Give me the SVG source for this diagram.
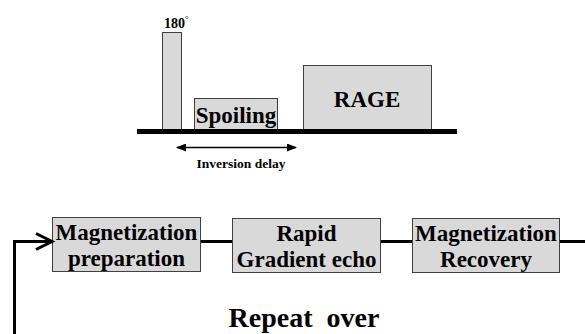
<svg xmlns="http://www.w3.org/2000/svg" width="585" height="334" viewBox="0 0 585 334">
<defs>
<marker id="ah" markerWidth="10" markerHeight="8" refX="9" refY="4" orient="auto" markerUnits="userSpaceOnUse">
<path d="M0,0 L10,4 L0,8 z" fill="#000"/>
</marker>
<marker id="ahs" markerWidth="10" markerHeight="8" refX="1" refY="4" orient="auto" markerUnits="userSpaceOnUse">
<path d="M10,0 L0,4 L10,8 z" fill="#000"/>
</marker>
</defs>
<rect width="585" height="334" fill="#fff"/>
<g font-family="Liberation Serif" font-weight="bold" fill="#000">
<g id="pulse180">
<rect x="162.5" y="32.5" width="19" height="97" fill="#d9d9d9" stroke="#404040"/>
<text x="164" y="28" font-size="14">180<tspan font-size="9" dy="-6">°</tspan></text>
</g>
<g id="spoiling">
<rect x="194.5" y="98.5" width="83" height="31" fill="#d9d9d9" stroke="#404040"/>
<text x="236" y="123" font-size="23" text-anchor="middle">Spoiling</text>
</g>
<g id="rage">
<rect x="303.5" y="65.5" width="128" height="64" fill="#d9d9d9" stroke="#404040"/>
<text x="367" y="107" font-size="23" text-anchor="middle">RAGE</text>
</g>
<g id="inversion-delay">
<text x="241" y="168" font-size="13.5" text-anchor="middle">Inversion delay</text>
</g>
<g id="mag-prep">
<rect x="52.5" y="217.5" width="148" height="54" fill="#d9d9d9" stroke="#404040"/>
<text x="126.5" y="240" font-size="23" text-anchor="middle">Magnetization</text>
<text x="126.5" y="266" font-size="23" text-anchor="middle">preparation</text>
</g>
<g id="rapid">
<rect x="232.5" y="218.5" width="148" height="54" fill="#d9d9d9" stroke="#404040"/>
<text x="306.5" y="241" font-size="23" text-anchor="middle">Rapid</text>
<text x="306.5" y="267" font-size="23" text-anchor="middle">Gradient echo</text>
</g>
<g id="mag-recovery">
<rect x="412.5" y="218.5" width="147" height="54" fill="#d9d9d9" stroke="#404040"/>
<text x="486" y="241" font-size="23" text-anchor="middle">Magnetization</text>
<text x="486" y="267" font-size="23" text-anchor="middle">Recovery</text>
</g>
<g id="repeat">
<text x="304" y="327" font-size="28" text-anchor="middle" xml:space="preserve">Repeat  over</text>
</g>
</g>
<g id="connectors" stroke="#000" fill="none">
<line x1="137" y1="131.5" x2="457" y2="131.5" stroke-width="5"/>
<line x1="177" y1="147.5" x2="296" y2="147.5" stroke-width="1.5" marker-start="url(#ahs)" marker-end="url(#ah)"/>
<line x1="201" y1="241.5" x2="232" y2="241.5" stroke-width="3"/>
<line x1="381" y1="241.5" x2="412" y2="241.5" stroke-width="3"/>
<line x1="560" y1="241.5" x2="585" y2="241.5" stroke-width="3"/>
<path d="M14.5,334 L14.5,241.5 L52,241.5" stroke-width="3"/>
<path d="M36,233.5 L52,241.5 L36,249.5" stroke-width="3"/>
</g>
</svg>
